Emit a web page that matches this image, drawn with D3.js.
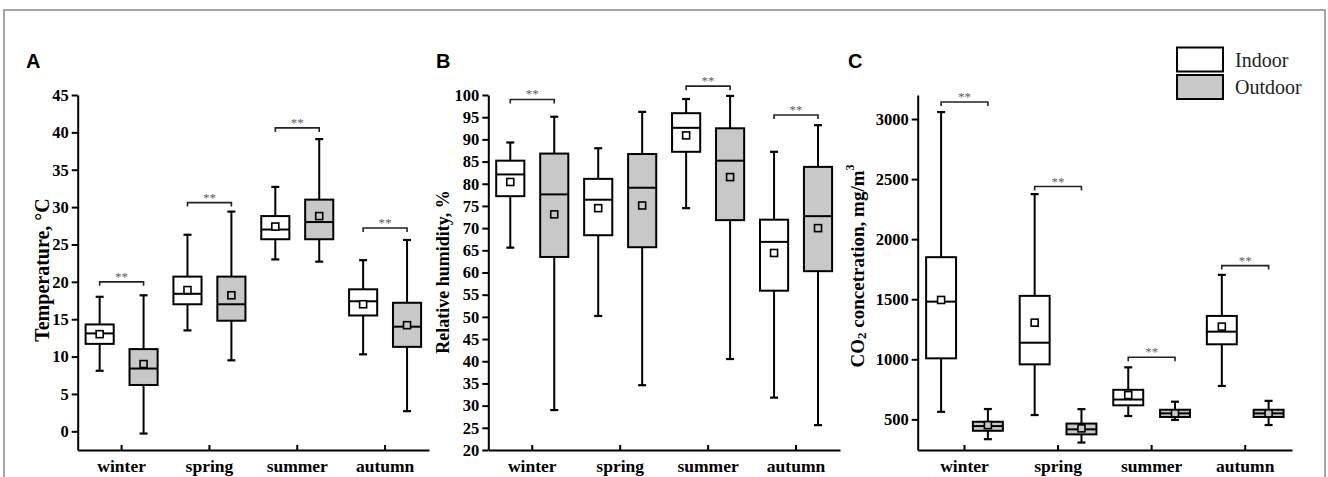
<!DOCTYPE html>
<html>
<head>
<meta charset="utf-8">
<script src="https://cdn.jsdelivr.net/npm/d3@7"></script>
<style>
  body { margin: 0; background: #fff; }
  svg { display: block; }
</style>
</head>
<body>
<svg id="chart" width="1328" height="477"></svg>
<script>
const seasons = ['winter', 'spring', 'summer', 'autumn']
const groups = ['Indoor', 'Outdoor']

// each row: [lower whisker, Q1, median, Q3, upper whisker, mean]
const tempIndoor = [
  [8.1, 11.7, 13.1, 14.3, 18.0, 13.0],
  [13.5, 17.0, 18.4, 20.7, 26.3, 18.9],
  [23.0, 25.7, 27.0, 28.8, 32.7, 27.4],
  [10.3, 15.5, 17.4, 19.0, 22.9, 17.0]
]
const tempOutdoor = [
  [-0.3, 6.2, 8.4, 11.0, 18.2, 9.0],
  [9.5, 14.8, 17.0, 20.7, 29.4, 18.2],
  [22.7, 25.7, 28.0, 31.0, 39.1, 28.8],
  [2.7, 11.3, 14.0, 17.2, 25.6, 14.2]
]
const humIndoor = [
  [65.6, 77.2, 82.1, 85.2, 89.3, 80.4],
  [50.2, 68.4, 76.4, 81.1, 88.0, 74.5],
  [74.5, 87.2, 92.6, 95.9, 99.1, 90.9],
  [31.8, 55.9, 66.9, 71.9, 87.2, 64.4]
]
const humOutdoor = [
  [29.0, 63.5, 77.6, 86.8, 95.1, 73.1],
  [34.6, 65.7, 79.1, 86.7, 96.2, 75.1],
  [40.5, 71.8, 85.2, 92.5, 99.8, 81.5],
  [25.6, 60.3, 72.7, 83.8, 93.2, 70.0]
]
const co2Indoor = [
  [563, 1008, 1480, 1850, 3058, 1494],
  [536, 958, 1138, 1528, 2375, 1305],
  [528, 617, 665, 746, 933, 702],
  [778, 1125, 1230, 1361, 1703, 1272]
]
const co2Outdoor = [
  [335, 405, 444, 480, 586, 452],
  [307, 375, 417, 465, 585, 425],
  [496, 520, 550, 580, 647, 550],
  [453, 520, 550, 580, 654, 550]
]

// level of the "**" brackets (null = no bracket)
const tempSig = [20.0, 30.6, 40.6, 27.2]
const humSig = [99.0, null, 102.0, 95.5]
const co2Sig = [3142, 2438, 1017, 1780]

const tempTicks = d3.range(0, 46, 5)
const humTicks = d3.range(20, 101, 5)
const co2Ticks = d3.range(500, 3001, 500)

const svg = d3.select('#chart')
const serif = '"Liberation Serif", "Times New Roman", serif'
const sans = '"Liberation Sans", Arial, sans-serif'
const boxGray = '#c8c8c8'

// outer frame
svg.append('rect')
  .attr('x', 4).attr('y', 10)
  .attr('width', 1321).attr('height', 500)
  .attr('fill', 'none')
  .attr('stroke', '#8a8a8a')
  .attr('stroke-width', 1.5)

const panels = [
  { letter: 'A', lx: 26, left: 77.7, right: 429, domain: [-2.5, 45], ticks: tempTicks,
    indoor: tempIndoor, outdoor: tempOutdoor, sig: tempSig,
    title: 'Temperature, °C', tx: 42, ty: 270, tsize: 20 },
  { letter: 'B', lx: 436, left: 488.3, right: 840, domain: [20, 100], ticks: humTicks,
    indoor: humIndoor, outdoor: humOutdoor, sig: humSig,
    title: 'Relative humidity, %', tx: 443, ty: 272, tsize: 18 },
  { letter: 'C', lx: 848, left: 917.7, right: 1292, domain: [245, 3200], ticks: co2Ticks,
    indoor: co2Indoor, outdoor: co2Outdoor, sig: co2Sig,
    title: null, tx: 857, ty: 266, tsize: 19 }
]

const plotTop = 95, plotBottom = 450

panels.forEach(p => {
  const g = svg.append('g')

  const x = d3.scaleBand().domain(seasons).range([p.left, p.right])
  const y = d3.scaleLinear().domain(p.domain).range([plotBottom, plotTop])
  const step = x.step()
  const off = step / 4
  const bw = step * 0.32

  // panel letter
  g.append('text')
    .attr('x', p.lx).attr('y', 68)
    .style('font-family', sans).style('font-weight', 'bold').style('font-size', '20px')
    .text(p.letter)

  // y axis
  const yAxisG = g.append('g')
    .attr('transform', `translate(${p.left},0)`)
    .call(d3.axisLeft(y).tickValues(p.ticks).tickFormat(d3.format('d'))
      .tickSize(6).tickSizeOuter(0).tickPadding(3))
  // x axis
  const xAxisG = g.append('g')
    .attr('transform', `translate(0,${plotBottom})`)
    .call(d3.axisBottom(x).tickSize(-5).tickSizeOuter(0).tickPadding(10))

  ;[yAxisG, xAxisG].forEach(a => {
    a.selectAll('path.domain').attr('stroke', '#000').attr('stroke-width', 2)
    a.selectAll('.tick line').attr('stroke', '#000').attr('stroke-width', 2)
    a.selectAll('.tick text')
      .attr('fill', '#000')
      .style('font-family', serif).style('font-weight', 'bold')
  })
  yAxisG.selectAll('.tick text').style('font-size', '16.5px')
  xAxisG.selectAll('.tick text').style('font-size', '17.5px')

  // y title
  const t = g.append('text')
    .attr('transform', `translate(${p.tx},${p.ty}) rotate(-90)`)
    .attr('text-anchor', 'middle')
    .attr('dominant-baseline', 'central')
    .style('font-family', serif).style('font-weight', 'bold')
    .style('font-size', p.tsize + 'px')
  if (p.title) {
    t.text(p.title)
  } else {
    t.append('tspan').text('CO')
    t.append('tspan').attr('dy', 4).style('font-size', '13px').text('2')
    t.append('tspan').attr('dy', -4).text(' concetration, mg/m')
    t.append('tspan').attr('dy', -7).style('font-size', '12px').text('3')
  }

  // boxes
  const series = [
    { key: groups[0], rows: p.indoor, dx: -off, fill: '#fff' },
    { key: groups[1], rows: p.outdoor, dx: off, fill: boxGray }
  ]
  series.forEach(s => {
    const bg = g.append('g')
    s.rows.forEach((r, i) => {
      const cx = x(seasons[i]) + step / 2 + s.dx
      const [lo, q1, med, q3, hi, mean] = r
      bg.append('line')
        .attr('x1', cx).attr('x2', cx)
        .attr('y1', y(lo)).attr('y2', y(hi))
        .attr('stroke', '#000').attr('stroke-width', 2)
      ;[lo, hi].forEach(v => {
        bg.append('line')
          .attr('x1', cx - 4).attr('x2', cx + 4)
          .attr('y1', y(v)).attr('y2', y(v))
          .attr('stroke', '#000').attr('stroke-width', 2.2)
      })
      bg.append('rect')
        .attr('x', cx - bw / 2).attr('width', bw)
        .attr('y', y(q3)).attr('height', y(q1) - y(q3))
        .attr('fill', s.fill)
        .attr('stroke', '#000').attr('stroke-width', 2)
      bg.append('line')
        .attr('x1', cx - bw / 2).attr('x2', cx + bw / 2)
        .attr('y1', y(med)).attr('y2', y(med))
        .attr('stroke', '#000').attr('stroke-width', 2)
      bg.append('rect')
        .attr('x', cx - 3.5).attr('y', y(mean) - 3.5)
        .attr('width', 7).attr('height', 7)
        .attr('fill', s.fill)
        .attr('stroke', '#000').attr('stroke-width', 1.6)
    })
  })

  // significance brackets
  p.sig.forEach((v, i) => {
    if (v === null) return
    const c = x(seasons[i]) + step / 2
    const yy = y(v)
    g.append('path')
      .attr('d', `M${c - off},${yy + 4}V${yy}H${c + off}V${yy + 4}`)
      .attr('fill', 'none')
      .attr('stroke', '#222').attr('stroke-width', 1.6)
    g.append('text')
      .attr('x', c).attr('y', yy - 1)
      .attr('text-anchor', 'middle')
      .style('fill', '#606060')
      .style('font-family', serif).style('font-size', '13px')
      .text('**')
  })
})

// legend
const legend = svg.append('g')
groups.forEach((name, i) => {
  legend.append('rect')
    .attr('x', 1177).attr('y', 47.5 + i * 27.5)
    .attr('width', 46).attr('height', 24)
    .attr('fill', i === 0 ? '#fff' : boxGray)
    .attr('stroke', '#000').attr('stroke-width', 2)
  legend.append('text')
    .attr('x', 1235).attr('y', 67 + i * 27)
    .style('font-family', serif).style('font-size', '20px')
    .attr('fill', '#222')
    .text(name)
})
</script>
</body>
</html>
